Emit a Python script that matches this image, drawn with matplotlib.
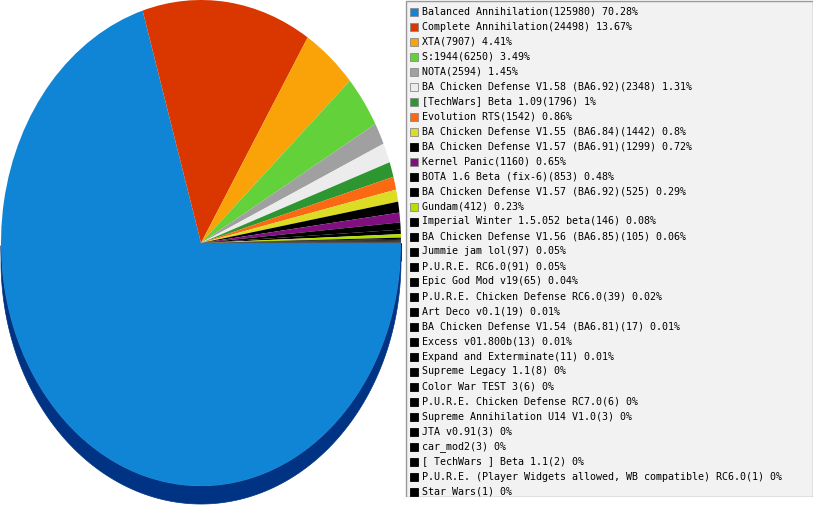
import numpy as np
import matplotlib
matplotlib.use("Agg")
import matplotlib.pyplot as plt
from matplotlib.patches import Rectangle, Polygon

# games and how many times each was played
games = [
    "Balanced Annihilation", "Complete Annihilation", "XTA", "S:1944", "NOTA",
    "BA Chicken Defense V1.58 (BA6.92)", "[TechWars] Beta 1.09", "Evolution RTS",
    "BA Chicken Defense V1.55 (BA6.84)", "BA Chicken Defense V1.57 (BA6.91)",
    "Kernel Panic", "BOTA 1.6 Beta (fix-6)", "BA Chicken Defense V1.57 (BA6.92)",
    "Gundam", "Imperial Winter 1.5.052 beta", "BA Chicken Defense V1.56 (BA6.85)",
    "Jummie jam lol", "P.U.R.E. RC6.0", "Epic God Mod v19",
    "P.U.R.E. Chicken Defense RC6.0", "Art Deco v0.1",
    "BA Chicken Defense V1.54 (BA6.81)", "Excess v01.800b", "Expand and Exterminate",
    "Supreme Legacy 1.1", "Color War TEST 3", "P.U.R.E. Chicken Defense RC7.0",
    "Supreme Annihilation U14 V1.0", "JTA v0.91", "car_mod2", "[ TechWars ] Beta 1.1",
    "P.U.R.E. (Player Widgets allowed, WB compatible) RC6.0", "Star Wars",
]
counts = [125980, 24498, 7907, 6250, 2594, 2348, 1796, 1542, 1442, 1299, 1160,
          853, 525, 412, 146, 105, 97, 91, 65, 39, 19, 17, 13, 11, 8, 6, 6,
          3, 3, 3, 2, 1, 1]
colors = ["#1185d5", "#d93600", "#f9a308", "#62d13a", "#a0a0a0", "#ececec",
          "#2e9631", "#fb6a12", "#dcdc24", "#000000", "#800f80", "#000000",
          "#000000", "#b4e000"] + ["#000000"] * 19
# darker shade used for the side of each slice
rim_colors = ["#003384", "#7a1e00", "#8c5a00", "#2f7a1a", "#555555", "#888888",
              "#175019", "#8c3a08", "#7c7c10", "#000000", "#400740", "#000000",
              "#000000", "#607800"] + ["#000000"] * 19

total = sum(counts)
labels = []
for g, c in zip(games, counts):
    p = round(c / total * 100, 2)
    labels.append(f"{g}({c}) {p:g}%")

fig = plt.figure(figsize=(8.15, 5.05), dpi=100)

# pie (squashed to an ellipse, with a dark rim underneath)
ax = fig.add_axes([0, 0, 402 / 815, 1])
wedges, _ = ax.pie(counts, colors=colors, startangle=0, counterclock=False,
                   wedgeprops=dict(linewidth=0), normalize=True)
depth = 0.074
for w, rim in zip(wedges, rim_colors):
    t1, t2 = sorted((w.theta1, w.theta2))
    ts = np.linspace(t1, t2, 300)
    # only the part of the side that faces the viewer (lower half)
    ts = ts[np.sin(np.radians(ts)) <= 0]
    if len(ts) < 2:
        continue
    xs = np.cos(np.radians(ts))
    ys = np.sin(np.radians(ts))
    pts = list(zip(xs, ys)) + list(zip(xs[::-1], ys[::-1] - depth))
    ax.add_patch(Polygon(pts, closed=True, facecolor=rim, edgecolor=rim,
                         linewidth=0.5, zorder=0))
ax.set_aspect("auto")
ax.set_xlim(-1.005, 1.005)
ax.set_ylim(-1.078, 1.0)
ax.axis("off")

# legend box
lax = fig.add_axes([405 / 815, 8 / 505, 408 / 815, 497 / 505])
lax.set_xlim(0, 408)
lax.set_ylim(497, 0)
lax.axis("off")
lax.add_patch(Rectangle((0.5, 0.5), 407, 496, facecolor="#f2f2f2",
                        edgecolor="#999999", linewidth=1))
for i, (lab, col) in enumerate(zip(labels, colors)):
    yc = 11.5 + 15 * i
    lax.add_patch(Rectangle((5, yc - 4), 8, 8, facecolor=col,
                            edgecolor="#8a8a8a" if col != "#000000" else "#000000",
                            linewidth=0.6))
    lax.text(17, yc, lab, fontsize=7.2, family="DejaVu Sans Mono",
             va="center", ha="left", color="#000000")

fig.savefig("out.png", dpi=100)
